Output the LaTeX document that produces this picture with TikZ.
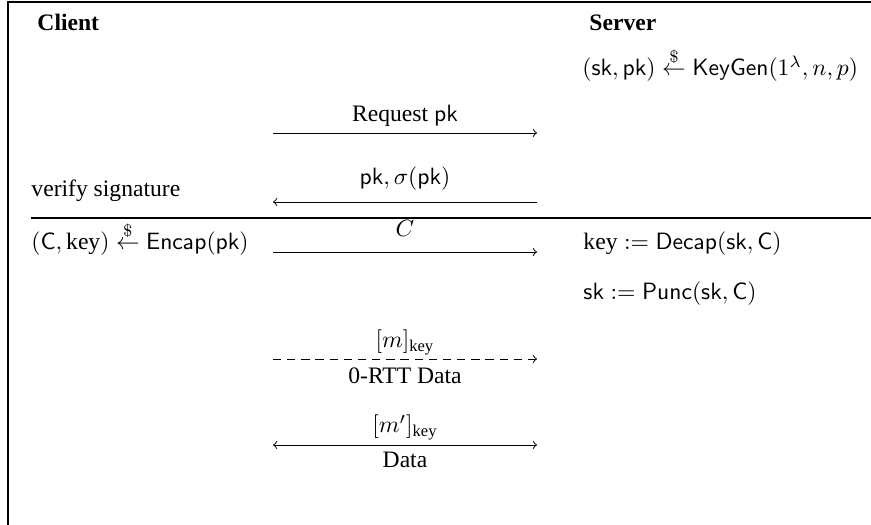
\documentclass[tikz,border=0pt]{standalone}
\usepackage{amsmath}
\usepackage[no-math]{fontspec}
\setmainfont{Liberation Serif}
\begin{document}
\begin{tikzpicture}[x=0.4237pt,y=-0.4237pt,
  txt/.style={inner sep=0pt,anchor=base west},
  lbl/.style={inner sep=0pt,anchor=base},
  msg/.style={line width=0.4pt,->},
  frameline/.style={line width=0.7pt}]
\useasboundingbox (0,0) rectangle (871,525);
% frame
\coordinate (ftl) at (8,2);
\coordinate (ftr) at (871,2);
\coordinate (fbl) at (8,525);
\draw[frameline] (ftr) -- (ftl) -- (fbl);
% headers
\node[txt] (client) at (37,31) {\textbf{Client}};
\node[txt] (server) at (589,31) {\textbf{Server}};
\node[txt] (keygen) at (582,76) {$(\mathsf{sk},\mathsf{pk}) \stackrel{\$}{\leftarrow} \mathsf{KeyGen}(1^\lambda,n,p)$};
% message 1
\coordinate (m1l) at (273,133);
\coordinate (m1r) at (537,133);
\draw[msg] (m1l) -- (m1r);
\node[lbl] (l1) at (405,122) {Request $\mathsf{pk}$};
% message 2
\coordinate (m2l) at (273,202);
\coordinate (m2r) at (537,202);
\draw[msg] (m2r) -- (m2l);
\node[lbl] (l2) at (405,185) {$\mathsf{pk},\sigma(\mathsf{pk})$};
\node[txt] (verify) at (31,197) {verify signature};
% separator
\coordinate (sepl) at (31,218);
\coordinate (sepr) at (871,218);
\draw[line width=0.6pt] (sepl) -- (sepr);
% encap
\node[txt] (encap) at (31,250) {$(\mathsf{C},\text{key}) \stackrel{\$}{\leftarrow} \mathsf{Encap}(\mathsf{pk})$};
\coordinate (m3l) at (273,252);
\coordinate (m3r) at (537,252);
\draw[msg] (m3l) -- (m3r);
\node[lbl] (l3) at (405,237) {$C$};
\node[txt] (decap) at (583,250) {$\text{key} := \mathsf{Decap}(\mathsf{sk},\mathsf{C})$};
\node[txt] (punc) at (583,300) {$\mathsf{sk} := \mathsf{Punc}(\mathsf{sk},\mathsf{C})$};
% 0-RTT
\coordinate (m4l) at (273,359);
\coordinate (m4r) at (537,359);
\draw[msg,dash pattern=on 3.5pt off 2.5pt] (m4l) -- (m4r);
\node[lbl] (l4a) at (405,348) {$[m]_{\text{key}}$};
\node[lbl] (l4b) at (405,384) {0-RTT Data};
% data
\coordinate (m5l) at (273,445);
\coordinate (m5r) at (537,445);
\draw[line width=0.4pt,<->] (m5l) -- (m5r);
\node[lbl] (l5a) at (405,433) {$[m']_{\text{key}}$};
\node[lbl] (l5b) at (405,468) {Data};
\end{tikzpicture}
\end{document}
